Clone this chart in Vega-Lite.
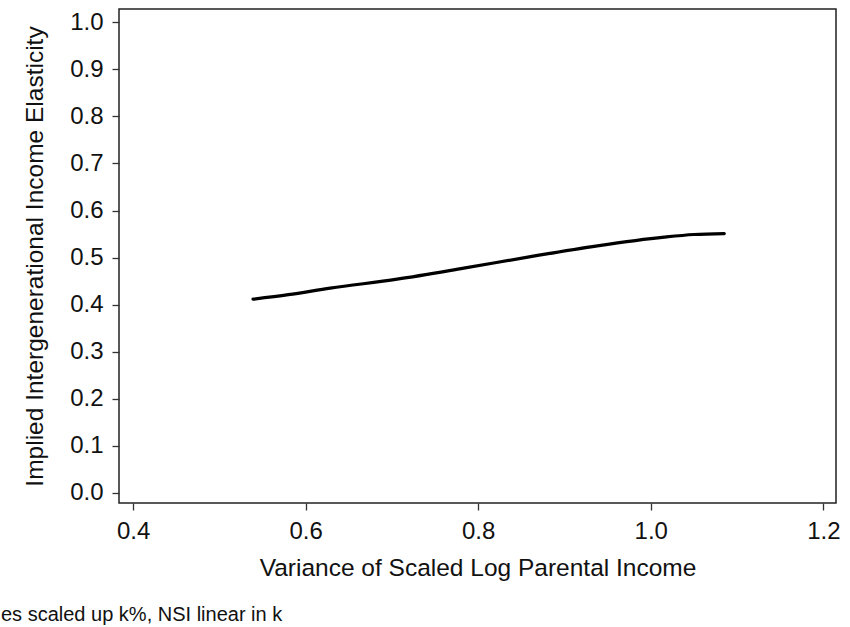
{
  "$schema": "https://vega.github.io/schema/vega-lite/v6.json",
  "width": 717,
  "height": 494,
  "autosize": {"type": "none"},
  "padding": {"left": 119, "top": 9, "right": 14, "bottom": 124},
  "background": "white",
  "config": {
    "font": "Liberation Sans",
    "view": {"stroke": "#222222", "strokeWidth": 1.5},
    "axis": {
      "grid": false,
      "domain": false,
      "tickColor": "#333333",
      "tickWidth": 1.3,
      "tickSize": 7,
      "labelColor": "#111111",
      "titleColor": "#111111",
      "labelFontSize": 24,
      "titleFontSize": 24.5,
      "titleFontWeight": "normal",
      "labelFont": "Liberation Sans",
      "titleFont": "Liberation Sans"
    }
  },
  "title": {
    "text": "es scaled up k%, NSI linear in k",
    "orient": "bottom",
    "anchor": "start",
    "frame": "group",
    "dx": -118,
    "offset": 25,
    "fontSize": 20,
    "fontWeight": "normal",
    "font": "Liberation Sans",
    "color": "#111111"
  },
  "data": {
    "values": [
      {"v": 0.539, "e": 0.4115},
      {"v": 0.58, "e": 0.421},
      {"v": 0.6285, "e": 0.435},
      {"v": 0.706, "e": 0.454},
      {"v": 0.7833, "e": 0.4774},
      {"v": 0.8607, "e": 0.502},
      {"v": 0.9382, "e": 0.525},
      {"v": 1.0156, "e": 0.5434},
      {"v": 1.05, "e": 0.549},
      {"v": 1.0852, "e": 0.551}
    ]
  },
  "mark": {"type": "line", "color": "black", "strokeWidth": 3.2, "interpolate": "monotone", "strokeCap": "round"},
  "encoding": {
    "x": {
      "field": "v",
      "type": "quantitative",
      "title": "Variance of Scaled Log Parental Income",
      "scale": {"domain": [0.3837, 1.2147], "nice": false, "zero": false},
      "axis": {"values": [0.4, 0.6, 0.8, 1.0, 1.2], "format": ".1f", "labelPadding": 9.5, "titlePadding": 13}
    },
    "y": {
      "field": "e",
      "type": "quantitative",
      "title": "Implied Intergenerational Income Elasticity",
      "scale": {"domain": [-0.0219, 1.0285], "nice": false, "zero": false},
      "axis": {"values": [0, 0.1, 0.2, 0.3, 0.4, 0.5, 0.6, 0.7, 0.8, 0.9, 1.0], "format": ".1f", "labelPadding": 9, "titlePadding": 22}
    }
  }
}
